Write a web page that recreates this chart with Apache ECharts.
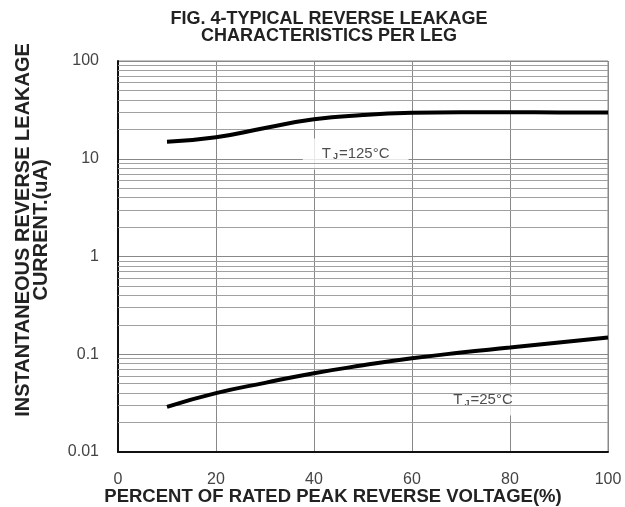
<!DOCTYPE html>
<html><head><meta charset="utf-8">
<script src="https://cdn.jsdelivr.net/npm/echarts@6/dist/echarts.min.js"></script>
<style>html,body{margin:0;padding:0;background:#fff}#c{width:625px;height:507px}</style>
</head><body><div id="c"></div>
<script>
const xTicks = [0, 20, 40, 60, 80, 100];
const yTickLabels = ['0.01', '0.1', '1', '10', '100'];
const voltagePct = [10, 20, 30, 40, 50, 60, 70, 80, 90, 100];
const leak125 = [14.9, 16.6, 20.6, 25.3, 28.0, 29.5, 29.9, 29.9, 29.8, 29.8];
const leak25 = [0.029, 0.040, 0.051, 0.064, 0.077, 0.091, 0.104, 0.117, 0.132, 0.148];
const labelTemps = ['125', '25'];
const labelPos = [[48.5, 11.2], [74.5, 0.034]];
const minorMultipliers = [2, 3, 4, 5, 6, 7, 8, 9];
const decades = [0.01, 0.1, 1, 10];

const minorLines = [];
decades.forEach(d => minorMultipliers.forEach(m => minorLines.push({ yAxis: +(d * m).toPrecision(3) })));

const font = 'Liberation Sans, Arial, sans-serif';
const chart = echarts.init(document.getElementById('c'), null, { renderer: 'canvas' });
chart.setOption({
  animation: false,
  backgroundColor: '#fff',
  grid: { left: 118, right: 17, top: 61, bottom: 55, show: true, borderColor: '#888', borderWidth: 1 },
  graphic: [
    { type: 'text', x: 329, y: 11, style: { text: 'FIG. 4-TYPICAL REVERSE LEAKAGE\nCHARACTERISTICS PER LEG', font: 'bold 18px ' + font, fill: '#222', textAlign: 'center', lineHeight: 17 } },
    { type: 'text', rotation: Math.PI / 2, x: 14, y: 230, style: { text: 'INSTANTANEOUS REVERSE LEAKAGE\nCURRENT.(uA)', font: 'bold 20px ' + font, fill: '#222', textAlign: 'center', textVerticalAlign: 'top', lineHeight: 18 } },
    { type: 'text', x: 333, y: 497, style: { text: 'PERCENT OF RATED PEAK REVERSE VOLTAGE(%)', font: 'bold 18.5px ' + font, fill: '#222', textAlign: 'center', textVerticalAlign: 'middle' } }
  ],
  xAxis: {
    type: 'value', min: 0, max: 100, interval: 20,
    axisLine: { show: true, onZero: false, lineStyle: { color: '#111', width: 2 } },
    axisTick: { show: false },
    axisLabel: { color: '#444', fontSize: 16, fontFamily: font, margin: 20, formatter: v => xTicks.includes(v) ? String(v) : '' },
    splitLine: { show: true, lineStyle: { color: '#888', width: 1 } }
  },
  yAxis: {
    type: 'log', logBase: 10, min: 0.01, max: 100,
    axisLine: { show: true, lineStyle: { color: '#111', width: 2 } },
    axisTick: { show: false },
    axisLabel: { color: '#444', fontSize: 16, fontFamily: font, margin: 19, formatter: v => { const s = String(+v.toPrecision(3)); return yTickLabels.includes(s) ? s : ''; } },
    splitLine: { show: true, lineStyle: { color: '#888', width: 1 } }
  },
  series: [
    { type: 'line', data: [], silent: true,
      markLine: { silent: true, symbol: 'none', label: { show: false }, animation: false,
        lineStyle: { color: '#a0a0a0', width: 1, type: 'solid' }, data: minorLines } },
    { type: 'line', smooth: true, showSymbol: false, data: voltagePct.map((x, i) => [x, leak125[i]]), lineStyle: { color: '#000', width: 4 }, z: 5 },
    { type: 'line', smooth: true, showSymbol: false, data: voltagePct.map((x, i) => [x, leak25[i]]), lineStyle: { color: '#000', width: 4 }, z: 5 },
    { type: 'scatter', symbolSize: 0, z: 4, data: labelPos.map((p, i) => ({ value: p, name: labelTemps[i] })),
      label: { show: true, position: 'inside', formatter: p => '{a|T}{s|J}{a|=' + p.name + '°C}',
        backgroundColor: '#fff', padding: [8, 19],
        rich: {
          a: { color: '#222', fontSize: 15, fontFamily: font, verticalAlign: 'middle' },
          s: { color: '#222', fontSize: 9, fontFamily: font, fontWeight: 'bold', verticalAlign: 'bottom', padding: [6, 1, 0, 2] }
        } } }
  ]
});
</script></body></html>
